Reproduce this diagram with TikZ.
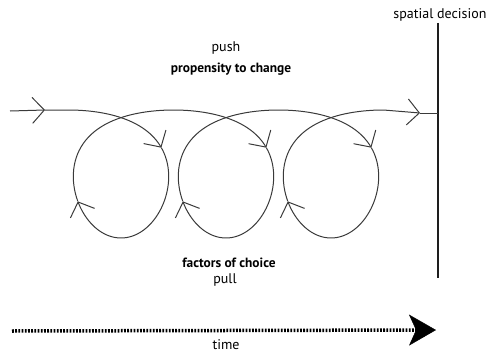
\documentclass[tikz,border=0pt]{standalone}
\usepackage{fontspec}
\setmainfont{PT Sans}
\usetikzlibrary{arrows.meta}
\definecolor{loopgray}{HTML}{3A3A3A}
\definecolor{barblack}{HTML}{1E1E1E}

\begin{document}
\begin{tikzpicture}[
  x=1pt, y=-1pt,
  loopline/.style={draw=loopgray, line width=1pt, line join=round},
  barb/.style={-{Straight Barb[length=12pt,width=26pt,line width=1pt]}},
  lbl/.style={font=\fontsize{14}{16}\selectfont, inner sep=0pt},
  blbl/.style={font=\fontsize{13.4}{16}\selectfont\bfseries, inner sep=0pt},
  declare function={trx(\t)=121+16.71*\t-72*sin(\t r);
                    try(\t)=161+64*cos(\t r)+13*cos(\t r)*cos(\t r);}
]
\useasboundingbox (0,0) rectangle (487,353);

% decision line
\coordinate (decTop) at (438,23);
\coordinate (decBot) at (438,278);
\coordinate (decHit) at (438,113);
\draw[barblack, line width=2.2pt] (decTop) -- (decBot);
\node[lbl] (spatial) at (440,15) {spatial decision};

% lead-in
\coordinate (inStart) at (10,111);
\coordinate (inTip) at (45,110);
\draw[loopline, barb] (inStart) -- (inTip);
\draw[loopline, barb] (inTip) -- plot[domain=-3.1416:-1.79, samples=30, variable=\t] ({trx(\t)},{try(\t)});

% loops
\foreach \k in {0,1,2}{
  \pgfmathsetmacro\ta{2*pi*\k-1.79}
  \pgfmathsetmacro\tb{2*pi*\k+0.97}
  \pgfmathsetmacro\tc{2*pi*\k+2*pi-1.79}
  \draw[loopline, barb] plot[domain=\ta:\tb, samples=60, variable=\t] ({trx(\t)},{try(\t)});
  \ifnum\k<2
    \draw[loopline, barb] plot[domain=\tb:\tc, samples=60, variable=\t] ({trx(\t)},{try(\t)});
  \fi
}

% run-out to the decision
\pgfmathsetmacro\td{4*pi+0.97}
\pgfmathsetmacro\te{4*pi+3.1416}
\coordinate (outTip) at (420,113);
\draw[loopline, barb] plot[domain=\td:\te, samples=40, variable=\t] ({trx(\t)},{try(\t)}) -- (outTip);
\draw[loopline] (outTip) -- (decHit);

% labels
\node[lbl] (push) at (226,48) {push};
\node[blbl] (propensity) at (231,69) {propensity to change};
\node[blbl] (factors) at (229,263) {factors of choice};
\node[lbl] (pull) at (225,280) {pull};

% time axis
\coordinate (tStart) at (12,331);
\coordinate (tEnd) at (436,330);
\draw[black, line width=3.5pt, dash pattern=on 1.8pt off 1.4pt,
  -{Stealth[length=27pt,width=31pt,inset=7pt,line width=0.5pt]}] (tStart) -- (tEnd);
\node[lbl] (time) at (226,345) {time};
\end{tikzpicture}
\end{document}
